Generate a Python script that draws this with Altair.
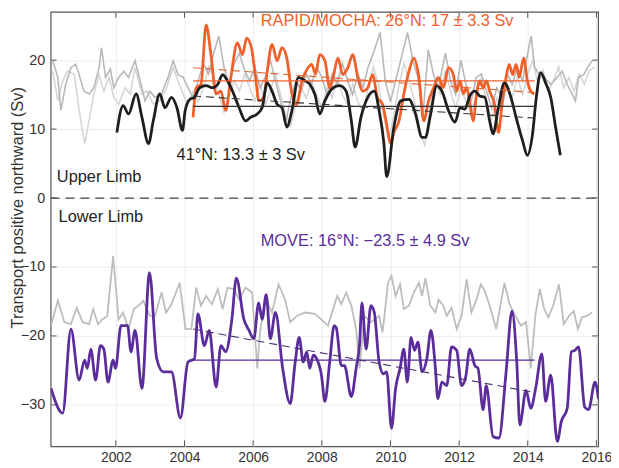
import altair as alt
import pandas as pd

# ---------------- data ----------------
x_ticks = [2002, 2004, 2006, 2008, 2010, 2012, 2014, 2016]
y_ticks = [-30, -20, -10, 0, 10, 20]

grey_a_years = [2000.16, 2000.31, 2000.40, 2000.54, 2000.69, 2000.83, 2000.93, 2001.07, 2001.22, 2001.36,
                2001.51, 2001.58, 2001.70, 2001.84, 2001.94, 2002.08, 2002.23, 2002.37, 2002.56, 2002.71,
                2002.85, 2002.99, 2003.14, 2003.33, 2003.52, 2003.67, 2003.81, 2003.96,
                2004.10, 2004.25, 2004.40, 2004.55, 2004.70, 2004.85, 2005.00, 2005.15, 2005.30, 2005.45,
                2005.60, 2005.75, 2005.90, 2006.05, 2006.20, 2006.35, 2006.50, 2006.65, 2006.80, 2006.95,
                2007.10, 2007.25, 2007.40, 2007.55, 2007.70, 2007.85, 2008.00, 2008.15, 2008.30, 2008.45,
                2008.60, 2008.75, 2008.90, 2009.05, 2009.20, 2009.35, 2009.50, 2009.70, 2009.85, 2010.00,
                2010.15, 2010.30, 2010.50, 2010.65, 2010.80, 2010.95, 2011.10, 2011.25, 2011.40, 2011.60,
                2011.75, 2011.90, 2012.05, 2012.20, 2012.35, 2012.50, 2012.65, 2012.80, 2012.95, 2013.10,
                2013.25, 2013.40, 2013.55, 2013.70, 2013.85, 2014.00, 2014.10, 2014.20, 2014.35, 2014.48,
                2014.67, 2014.86, 2015.00, 2015.15, 2015.29, 2015.39, 2015.48, 2015.63, 2015.72, 2015.87]
grey_a_values = [19.9, 17.5, 12.7, 16.5, 18.9, 19.4, 17.9, 15.5, 15.1, 16.0,
                 18.9, 21.8, 17.5, 18.7, 16.0, 17.5, 18.4, 17.5, 19.9, 17.0,
                 14.1, 15.5, 14.6, 15.1, 17.5, 19.9, 17.9, 17.5,
                 16.0, 14.5, 17.0, 19.5, 18.0, 21.0, 23.5, 19.0, 16.5, 19.5,
                 21.0, 18.5, 17.0, 19.0, 16.0, 17.5, 20.0, 17.0, 14.0, 11.0,
                 14.5, 17.0, 15.5, 18.0, 16.5, 19.0, 17.5, 15.0, 18.0, 16.5,
                 19.5, 17.0, 15.0, 18.0, 16.0, 19.0, 21.0, 24.0, 17.0, 14.0,
                 17.0, 20.0, 24.0, 20.0, 17.5, 12.0, 21.5, 18.0, 16.0, 21.0,
                 17.0, 15.0, 20.0, 16.5, 14.0, 17.5, 18.0, 15.5, 13.0, 16.0,
                 14.5, 18.0, 16.5, 19.0, 17.0, 21.0, 23.5, 19.0, 17.8, 17.5,
                 16.5, 17.5, 18.4, 16.5, 15.1, 14.1, 17.5, 17.9, 18.7, 19.9]

grey_b_years = [2000.16, 2000.31, 2000.45, 2000.59, 2000.79, 2000.93, 2001.09, 2001.22, 2001.36, 2001.51,
                2001.65, 2001.80, 2001.94, 2002.08, 2002.27, 2002.42, 2002.56, 2002.76, 2002.90, 2003.09,
                2003.28, 2003.48, 2003.67, 2003.81, 2003.96,
                2004.10, 2004.25, 2004.40, 2004.55, 2004.70, 2004.85, 2005.00, 2005.15, 2005.30, 2005.45,
                2005.60, 2005.75, 2005.90, 2006.05, 2006.20, 2006.35, 2006.50, 2006.65, 2006.80, 2006.95,
                2007.10, 2007.25, 2007.40, 2007.55, 2007.70, 2007.85, 2008.00, 2008.15, 2008.30, 2008.45,
                2008.60, 2008.75, 2008.90, 2009.05, 2009.20, 2009.35, 2009.50, 2009.65, 2009.80, 2009.95,
                2010.10, 2010.25, 2010.40, 2010.55, 2010.70, 2010.85, 2011.00, 2011.15, 2011.30, 2011.45,
                2011.60, 2011.75, 2011.90, 2012.05, 2012.20, 2012.35, 2012.50, 2012.65, 2012.80, 2012.95,
                2013.10, 2013.25, 2013.40, 2013.55, 2013.70, 2013.85, 2014.00, 2014.15, 2014.30, 2014.45,
                2014.60, 2014.75, 2014.90, 2015.05, 2015.20, 2015.35, 2015.50, 2015.65, 2015.80, 2015.95]
grey_b_values = [18.4, 14.1, 17.0, 18.4, 17.9, 12.7, 7.9, 11.2, 15.1, 17.9,
                 15.5, 17.5, 14.6, 13.6, 16.0, 15.1, 18.9, 15.1, 15.5, 13.6,
                 14.1, 16.0, 18.9, 17.0, 15.1,
                 13.5, 15.5, 14.0, 16.0, 19.0, 17.5, 15.0, 12.5, 15.0, 17.0,
                 15.5, 18.0, 16.0, 14.0, 16.5, 13.5, 15.5, 18.0, 15.0, 12.0,
                 10.5, 14.0, 16.0, 14.5, 17.0, 15.0, 13.0, 16.0, 14.5, 17.5,
                 15.0, 13.5, 16.5, 14.0, 12.5, 16.0, 19.0, 16.5, 12.0, 8.5,
                 12.0, 16.5, 19.5, 17.0, 14.0, 10.0, 7.5, 13.0, 17.0, 15.0,
                 18.5, 15.5, 13.0, 16.0, 14.0, 12.5, 15.0, 17.5, 14.0, 11.5,
                 14.5, 13.0, 16.5, 14.5, 17.5, 15.0, 18.0, 20.0, 16.5, 18.5,
                 15.5, 17.0, 19.0, 16.0, 17.5, 15.5, 18.0, 16.5, 18.5, 19.0]

grey_low_years = [2000.11, 2000.31, 2000.50, 2000.69, 2000.86, 2001.03, 2001.22, 2001.34, 2001.48, 2001.60,
                  2001.75, 2001.92, 2002.08, 2002.21, 2002.37, 2002.52, 2002.66, 2002.80, 2002.99, 2003.14,
                  2003.33, 2003.46, 2003.62, 2003.86, 2004.03, 2004.20, 2004.34, 2004.48, 2004.63, 2004.80,
                  2004.97, 2005.11, 2005.25, 2005.44, 2005.59, 2005.78, 2005.97, 2006.12, 2006.21, 2006.36,
                  2006.55, 2006.74, 2006.93, 2007.08, 2007.27, 2007.51, 2007.80, 2008.18, 2008.45, 2008.57,
                  2008.71, 2008.86, 2009.00, 2009.10, 2009.24, 2009.43, 2009.67, 2009.77, 2009.93, 2010.03,
                  2010.15, 2010.28, 2010.39, 2010.54, 2010.68, 2010.83, 2010.92, 2011.02, 2011.16, 2011.31,
                  2011.40, 2011.54, 2011.64, 2011.78, 2011.93, 2012.07, 2012.22, 2012.36, 2012.51, 2012.63,
                  2012.75, 2012.89, 2013.08, 2013.32, 2013.47, 2013.61, 2013.80, 2013.95, 2014.09, 2014.22,
                  2014.35, 2014.48, 2014.60, 2014.74, 2014.91, 2015.05, 2015.20, 2015.34, 2015.46, 2015.58,
                  2015.72, 2015.87]
grey_low_values = [-18.5, -14.9, -18.0, -18.3, -15.9, -18.0, -18.3, -16.1, -18.3, -17.6,
                   -17.1, -8.4, -17.6, -16.6, -19.0, -16.1, -15.6, -14.9, -17.1, -17.1,
                   -13.7, -16.6, -15.4, -12.3, -19.0, -19.0, -13.0, -15.6, -14.2, -15.4,
                   -13.2, -16.1, -13.0, -13.2, -14.7, -13.0, -13.7, -24.7, -19.0, -14.7,
                   -16.6, -12.5, -14.7, -18.0, -17.1, -16.6, -16.8, -18.5, -14.2, -15.4,
                   -13.7, -15.6, -19.0, -24.7, -17.1, -18.0, -17.1, -19.5, -12.3, -11.3,
                   -14.2, -12.5, -16.1, -15.6, -13.7, -12.3, -14.2, -11.6, -15.6, -16.6,
                   -14.7, -15.6, -17.1, -15.9, -19.0, -17.1, -11.8, -16.6, -14.7, -12.5,
                   -13.5, -15.6, -19.0, -12.3, -15.4, -16.8, -18.5, -18.0, -24.7, -17.1,
                   -13.2, -16.1, -17.3, -15.6, -12.5, -18.3, -17.1, -16.4, -19.0, -17.3,
                   -17.1, -16.6]

rapid_years = [2004.25, 2004.34, 2004.48, 2004.63, 2004.77, 2004.92, 2005.06, 2005.20, 2005.35, 2005.54,
               2005.69, 2005.81, 2005.95, 2006.07, 2006.17, 2006.31, 2006.41, 2006.55, 2006.70, 2006.84,
               2006.98, 2007.13, 2007.27, 2007.42, 2007.54, 2007.70, 2007.82, 2007.94, 2008.09, 2008.23,
               2008.33, 2008.47, 2008.61, 2008.76, 2008.90, 2009.05, 2009.19, 2009.34, 2009.48, 2009.62,
               2009.77, 2009.87, 2010.01, 2010.10, 2010.25, 2010.39, 2010.54, 2010.68, 2010.83, 2010.97,
               2011.11, 2011.26, 2011.40, 2011.54, 2011.69, 2011.83, 2011.93, 2012.03, 2012.12, 2012.22,
               2012.32, 2012.41, 2012.51, 2012.60, 2012.70, 2012.80, 2012.89, 2013.03, 2013.15, 2013.25,
               2013.37, 2013.46, 2013.56, 2013.66, 2013.75, 2013.88, 2013.99, 2014.09, 2014.19]
rapid_values = [11.7, 16.0, 16.5, 25.1, 20.8, 15.1, 15.5, 12.7, 17.5, 22.5,
                20.8, 23.2, 21.8, 17.5, 14.1, 14.6, 18.4, 22.3, 19.9, 21.8,
                20.3, 15.1, 13.6, 17.0, 18.4, 19.4, 18.0, 20.8, 19.9, 16.0,
                17.5, 20.3, 17.9, 18.9, 20.8, 17.5, 15.5, 16.0, 17.9, 14.6,
                13.6, 11.2, 7.9, 9.5, 11.2, 15.1, 18.4, 20.3, 17.5, 11.2,
                14.1, 16.0, 17.5, 16.0, 18.9, 17.9, 15.5, 17.0, 15.1, 16.0,
                13.6, 11.2, 15.1, 17.0, 16.0, 17.0, 15.5, 13.6, 9.5, 13.6,
                17.5, 19.4, 17.9, 19.4, 17.5, 20.3, 17.0, 15.5, 15.1]

n41_years = [2002.03, 2002.21, 2002.37, 2002.59, 2002.76, 2002.95, 2003.09, 2003.28, 2003.43, 2003.62,
             2003.78, 2003.94, 2004.02, 2004.15, 2004.29, 2004.44, 2004.63, 2004.82, 2004.97, 2005.11,
             2005.25, 2005.40, 2005.59, 2005.78, 2005.92, 2006.12, 2006.26, 2006.41, 2006.55, 2006.70,
             2006.84, 2006.98, 2007.13, 2007.32, 2007.51, 2007.65, 2007.80, 2007.94, 2008.09, 2008.33,
             2008.52, 2008.71, 2008.86, 2008.97, 2009.14, 2009.34, 2009.53, 2009.67, 2009.81, 2009.89,
             2010.10, 2010.30, 2010.54, 2010.73, 2010.92, 2011.02, 2011.16, 2011.35, 2011.50, 2011.69,
             2011.88, 2012.03, 2012.17, 2012.31, 2012.46, 2012.60, 2012.75, 2012.89, 2012.99, 2013.13,
             2013.32, 2013.51, 2013.66, 2013.85, 2013.99, 2014.14, 2014.25, 2014.38, 2014.52, 2014.67,
             2014.81, 2014.95]
n41_values = [9.5, 13.4, 12.2, 15.1, 11.7, 7.9, 11.2, 15.1, 13.1, 14.6,
              13.1, 9.8, 12.7, 14.3, 14.6, 16.0, 16.3, 16.0, 16.5, 17.9,
              17.0, 15.5, 13.1, 11.2, 11.7, 12.2, 13.1, 16.7, 15.5, 13.6,
              13.1, 10.3, 12.7, 17.5, 17.0, 16.5, 15.0, 12.2, 14.1, 16.0,
              16.3, 15.5, 11.2, 7.4, 11.7, 14.6, 15.5, 12.7, 7.9, 3.1,
              10.3, 14.1, 14.3, 12.2, 8.8, 8.8, 11.9, 16.3, 15.5, 12.7,
              11.0, 13.1, 12.9, 14.8, 15.5, 14.8, 14.6, 11.2, 9.3, 12.7,
              16.7, 14.6, 11.7, 8.3, 6.2, 9.3, 14.6, 18.2, 16.7, 14.6,
              10.3, 6.2]

move_years = [2000.11, 2000.45, 2000.69, 2000.93, 2001.09, 2001.17, 2001.27, 2001.41, 2001.55, 2001.65,
              2001.77, 2001.92, 2001.99, 2002.15, 2002.34, 2002.44, 2002.56, 2002.76, 2002.98, 2003.19,
              2003.38, 2003.62, 2003.88, 2004.10, 2004.29, 2004.39, 2004.58, 2004.72, 2004.92, 2005.06,
              2005.20, 2005.38, 2005.51, 2005.73, 2005.88, 2006.02, 2006.16, 2006.26, 2006.38, 2006.50,
              2006.65, 2006.86, 2007.08, 2007.22, 2007.34, 2007.46, 2007.56, 2007.65, 2007.75, 2007.85,
              2007.99, 2008.09, 2008.23, 2008.36, 2008.42, 2008.57, 2008.66, 2008.86, 2009.00, 2009.10,
              2009.17, 2009.29, 2009.43, 2009.53, 2009.67, 2009.80, 2009.89, 2010.03, 2010.15, 2010.28,
              2010.39, 2010.49, 2010.60, 2010.70, 2010.80, 2010.92, 2011.06, 2011.18, 2011.31, 2011.38,
              2011.50, 2011.64, 2011.78, 2011.93, 2012.07, 2012.19, 2012.31, 2012.46, 2012.55, 2012.70,
              2012.79, 2012.99, 2013.16, 2013.37, 2013.54, 2013.68, 2013.77, 2013.95, 2014.09, 2014.23,
              2014.41, 2014.52, 2014.67, 2014.86, 2014.98, 2015.15, 2015.27, 2015.37, 2015.48, 2015.66,
              2015.77, 2015.96, 2016.06]
move_values = [-27.6, -31.2, -19.0, -26.4, -23.5, -24.7, -21.9, -26.4, -21.4, -21.9,
               -26.7, -23.5, -24.7, -18.5, -18.5, -22.3, -19.2, -27.6, -10.8, -23.3,
               -25.2, -25.2, -31.9, -23.8, -23.3, -16.8, -21.4, -19.2, -27.4, -21.4,
               -22.3, -17.6, -11.6, -17.6, -19.2, -20.4, -15.2, -17.6, -14.0, -20.4,
               -16.6, -24.7, -29.8, -24.0, -20.2, -23.8, -22.3, -24.7, -22.8, -23.3,
               -25.7, -29.5, -23.8, -18.5, -18.8, -24.3, -24.3, -28.8, -24.7, -21.2,
               -15.2, -21.9, -15.6, -16.6, -23.8, -25.5, -25.2, -33.4, -27.6, -24.7,
               -21.9, -26.7, -20.2, -22.1, -20.9, -25.2, -23.3, -19.2, -24.7, -29.1,
               -26.7, -27.2, -21.6, -22.1, -27.2, -26.0, -21.9, -24.3, -24.7, -30.7,
               -27.2, -34.6, -34.8, -25.2, -16.4, -23.8, -32.9, -27.9, -30.5, -27.6,
               -22.6, -29.5, -25.7, -35.3, -32.4, -30.5, -22.3, -22.1, -21.6, -30.3,
               -30.7, -26.7, -29.1]

period = [2004.25, 2014.2]
rapid_mean = [17.0, 17.0]
n41_mean = [13.3, 13.3]
move_mean = [-23.5, -23.5]
rapid_trend = [18.9, 15.3]
n41_trend = [14.8, 11.6]
move_trend = [-19.0, -28.2]
zero_line_x = [2000.1, 2016.05]
zero_line_y = [0, 0]

label_texts = ["RAPID/MOCHA: 26°N: 17 ± 3.3 Sv", "41°N: 13.3 ± 3 Sv", "Upper Limb", "Lower Limb",
               "MOVE: 16°N: −23.5 ± 4.9 Sv"]
label_x = [2006.22, 2003.77, 2000.28, 2000.33, 2006.22]
label_y = [25.6, 6.3, 3.0, -2.7, -6.3]
label_colors = ["#f0602a", "#222222", "#222222", "#222222", "#5b2d9a"]

# ---------------- chart ----------------
W, H = 552, 438
FONT = "Liberation Sans"
xs = alt.Scale(domain=[2000.1, 2016.05], nice=False, zero=False)
ys = alt.Scale(domain=[-36, 27], nice=False, zero=False)

x_axis = alt.Axis(values=x_ticks, format="d", grid=True, gridColor="#ececec", ticks=False,
                  domain=False, labelFont=FONT, labelFontSize=14, labelColor="#333333",
                  labelPadding=4, title=None)
y_axis = alt.Axis(values=y_ticks, format="d", grid=True, gridColor="#ececec", ticks=False,
                  domain=False, labelFont=FONT, labelFontSize=14.5, labelColor="#333333",
                  labelPadding=6, title="Transport positive northward (Sv)",
                  titleFont=FONT, titleFontSize=16.5, titleFontWeight="normal", titleColor="#333333",
                  titleX=-33, titleY=197, titleAngle=270, titleAlign="center", titleBaseline="middle")


def line(years, values, color, width, dash=None, interp="linear", opacity=1.0):
    df = pd.DataFrame({"year": years, "value": values})
    kw = dict(color=color, strokeWidth=width, clip=True, interpolate=interp, opacity=opacity)
    if dash:
        kw["strokeDash"] = dash
    return alt.Chart(df).mark_line(**kw).encode(
        x=alt.X("year:Q", scale=xs, axis=x_axis),
        y=alt.Y("value:Q", scale=ys, axis=y_axis),
    )


layers = [
    line(grey_b_years, grey_b_values, "#d6d6d6", 1.6),
    line(grey_a_years, grey_a_values, "#b8b8b8", 1.6),
    line(grey_low_years, grey_low_values, "#bdbdbd", 1.8),
    line(zero_line_x, zero_line_y, "#444444", 1.2, dash=[9, 6]),
    line(rapid_years, rapid_values, "#f0602a", 2.8, interp="monotone"),
    line(n41_years, n41_values, "#1e1e1e", 2.8, interp="monotone"),
    line(move_years, move_values, "#5b2d9a", 2.8, interp="monotone"),
    line(period, rapid_mean, "#f0602a", 1.3),
    line(period, n41_mean, "#333333", 1.1),
    line(period, move_mean, "#5b2d9a", 1.3),
    line(period, rapid_trend, "#e0622e", 1.1, dash=[8, 5]),
    line(period, n41_trend, "#333333", 1.1, dash=[8, 5]),
    line(period, move_trend, "#4a3070", 1.1, dash=[8, 5]),
]

# inward ticks (box style)
xt = pd.DataFrame({"year": x_ticks})
yt = pd.DataFrame({"value": y_ticks})
tick_col = "#555555"
layers += [
    alt.Chart(xt).mark_rule(color=tick_col, strokeWidth=1).encode(
        x=alt.X("year:Q", scale=xs, axis=x_axis), y=alt.value(H), y2=alt.value(H - 6)),
    alt.Chart(xt).mark_rule(color=tick_col, strokeWidth=1).encode(
        x=alt.X("year:Q", scale=xs, axis=x_axis), y=alt.value(0), y2=alt.value(6)),
    alt.Chart(yt).mark_rule(color=tick_col, strokeWidth=1).encode(
        y=alt.Y("value:Q", scale=ys, axis=y_axis), x=alt.value(0), x2=alt.value(6)),
    alt.Chart(yt).mark_rule(color=tick_col, strokeWidth=1).encode(
        y=alt.Y("value:Q", scale=ys, axis=y_axis), x=alt.value(W - 6), x2=alt.value(W)),
]

labels = pd.DataFrame({"x": label_x, "y": label_y, "text": label_texts, "color": label_colors})
layers.append(
    alt.Chart(labels).mark_text(align="left", baseline="middle", font=FONT, fontSize=16.5).encode(
        x=alt.X("x:Q", scale=xs, axis=x_axis),
        y=alt.Y("y:Q", scale=ys, axis=y_axis),
        text="text:N",
        color=alt.Color("color:N", scale=None),
    )
)

chart = alt.layer(*layers).properties(
    width=W, height=H,
    autosize=alt.AutoSizeParams(type="none"),
    padding={"left": 43, "top": 2, "right": 13, "bottom": 20},
    background="white",
).configure_view(stroke="#555555", strokeWidth=1.2)

chart.save("out.html", embed_options={"renderer": "svg", "actions": False})
